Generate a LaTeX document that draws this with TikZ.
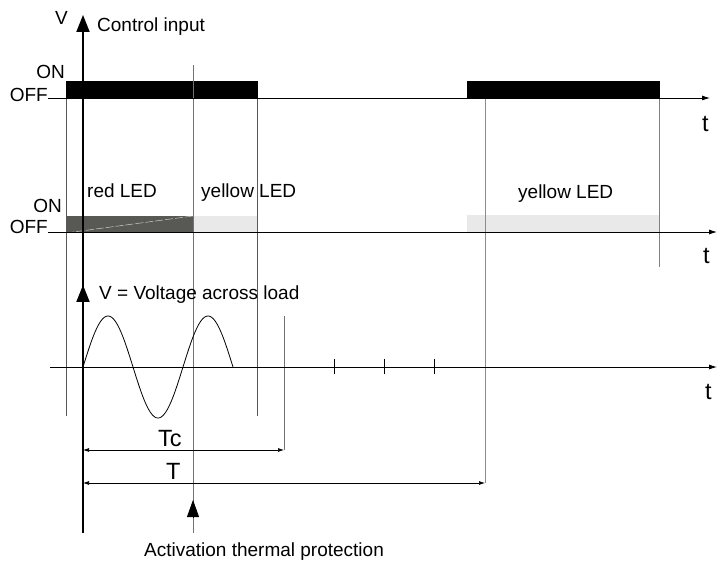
\documentclass[tikz,border=0pt]{standalone}
\usepackage{fontspec}
\setmainfont{Liberation Sans}
\usetikzlibrary{arrows.meta}
\definecolor{darkled}{RGB}{88,89,84}
\definecolor{lightled}{RGB}{233,233,233}
\begin{document}
\begin{tikzpicture}[x=1pt,y=-1pt,
  lbl/.style={inner sep=0pt, font=\fontsize{19}{22}\selectfont},
  biglbl/.style={inner sep=0pt, font=\fontsize{23.5}{27}\selectfont},
  taxis/.style={line width=0.8pt, -{Latex[length=8pt,width=5pt]}},
  vline/.style={line width=0.8pt, black!65},
  bigarrow/.style={-{Triangle[length=17pt,width=13pt]}},
  dimline/.style={line width=0.7pt, {Latex[length=6pt,width=4pt]}-{Latex[length=6pt,width=4pt]}},
  tick/.style={line width=0.8pt}]
\useasboundingbox (0,0) rectangle (721,561);

% ---------- bars ----------
\fill[black] (66,81) rectangle (258,98);
\fill[black] (467,81) rectangle (660,98);
\fill[darkled] (66,216) rectangle (193,233);
\fill[lightled] (193,216) rectangle (257,233);
\fill[lightled] (467,215) rectangle (659,232);
\draw[white!70!darkled, line width=0.5pt, dash pattern=on 8pt off 2pt] (66,233) -- (193,216);

% ---------- coordinates ----------
\coordinate (a1s) at (48,98);  \coordinate (a1e) at (710,98);
\coordinate (a2s) at (48,232); \coordinate (a2e) at (717,232);
\coordinate (a3s) at (50,367); \coordinate (a3e) at (717,367);

% vertical guide lines
\draw[vline] (66,98) -- (66,416);
\draw[vline, black!55] (193,65) -- (193,533);
\draw[vline] (257,98) -- (257,416);
\draw[vline, black!45] (485,98) -- (485,483);
\draw[vline, black!50] (659,98) -- (659,267);
\draw[vline, black!55] (284,316) -- (284,450);

% ---------- axes ----------
\draw[taxis] (a1s) -- (a1e);
\draw[taxis] (a2s) -- (a2e);
\draw[taxis] (a3s) -- (a3e);

\coordinate (vbot) at (83,533);
\coordinate (vtop) at (83,15);
\draw[line width=2pt, bigarrow] (vbot) -- (vtop);
\coordinate (vl0) at (83,367);
\coordinate (vltop) at (83,285);
\draw[line width=2pt, bigarrow] (vl0) -- (vltop);

% ticks
\foreach \x/\n in {334/t1,384/t2,434/t3}{
  \coordinate (\n a) at (\x,359); \coordinate (\n b) at (\x,374);
  \draw[tick] (\n a) -- (\n b);
}

% sine wave
\draw[line width=0.8pt, domain=0:150, samples=120, smooth]
  plot ({83+\x},{367-51*sin(\x*3.6)});

% ---------- dimension lines ----------
\coordinate (tc1) at (83,450); \coordinate (tc2) at (284,450);
\coordinate (t1) at (83,483);  \coordinate (t2) at (485,483);
\draw[dimline] (tc1) -- (tc2);
\draw[dimline] (t1) -- (t2);
\node[biglbl, anchor=base west] (tclbl) at (158,447) {Tc};
\node[biglbl, anchor=base west] (tlbl) at (166,480) {T};

% activation arrow
\coordinate (actb) at (193,518);
\coordinate (actt) at (193,500);
\draw[line width=0.8pt, -{Triangle[length=17pt,width=12pt]}] (actb) -- (actt);
\node[lbl, anchor=base] (act) at (264,556) {Activation thermal protection};

% ---------- labels ----------
\node[lbl, anchor=base west] (vlab) at (55,25) {V};
\node[lbl, anchor=base west] (ctrl) at (97,32) {Control input};
\node[lbl, anchor=base east] (on1) at (65,79) {ON};
\node[lbl, anchor=base east] (off1) at (48,102) {OFF};
\node[biglbl, anchor=base west] (tt1) at (702,132) {t};

\node[lbl, anchor=base east] (on2) at (62,213) {ON};
\node[lbl, anchor=base east] (off2) at (48,234) {OFF};
\node[lbl, anchor=base west] (red) at (87,198) {red LED};
\node[lbl, anchor=base west] (yel1) at (201,198) {yellow LED};
\node[lbl, anchor=base west] (yel2) at (518,199) {yellow LED};
\node[biglbl, anchor=base west] (tt2) at (703,264) {t};

\node[lbl, anchor=base west] (vload) at (99,300) {V = Voltage across load};
\node[biglbl, anchor=base west] (tt3) at (705,400) {t};
\end{tikzpicture}
\end{document}
